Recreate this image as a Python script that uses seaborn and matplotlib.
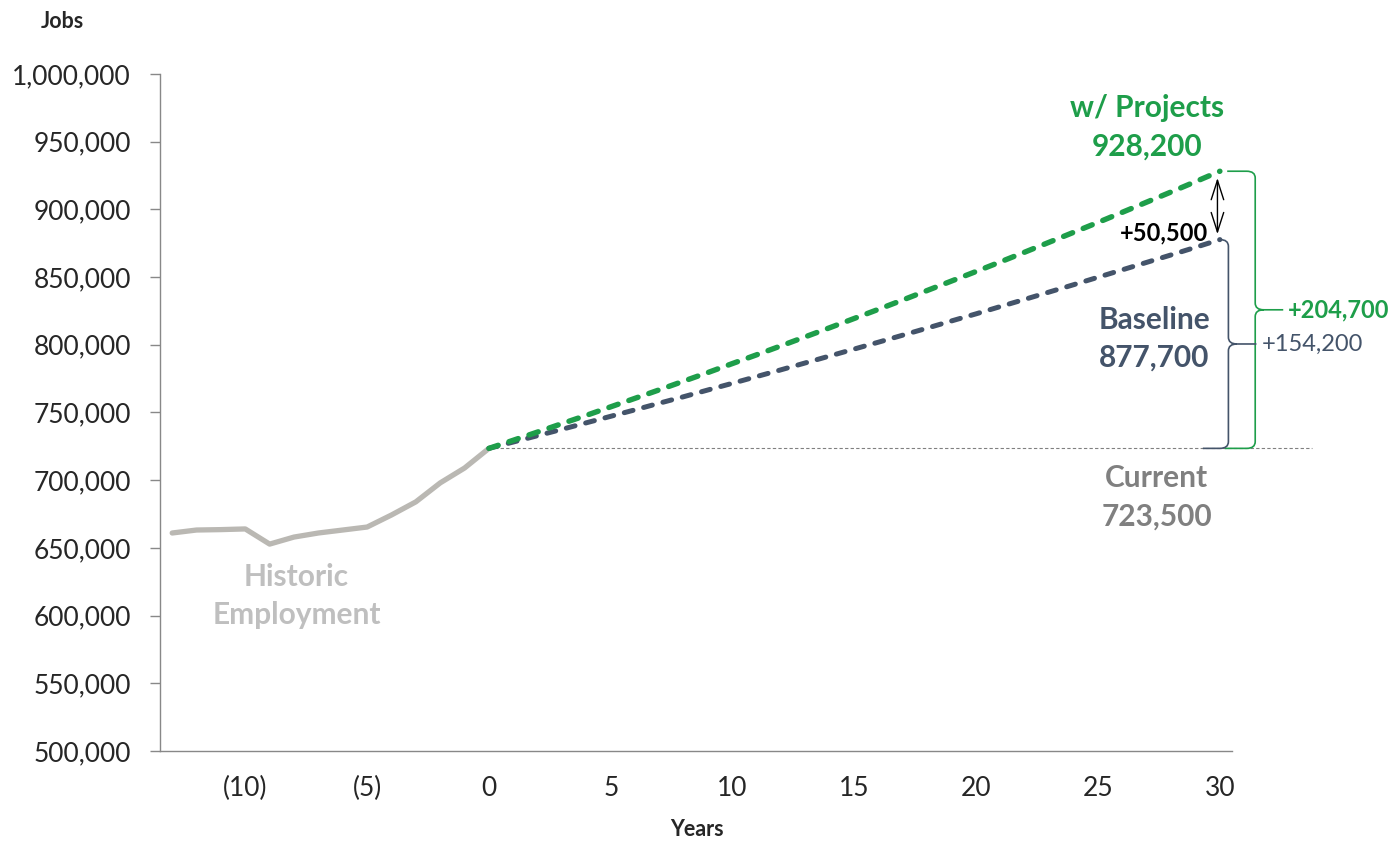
import matplotlib
matplotlib.use("Agg")
import matplotlib.pyplot as plt
import matplotlib.patches as mpatches
from matplotlib.path import Path
from matplotlib.ticker import FuncFormatter
import pandas as pd
import seaborn as sns

sns.set_style("ticks")
plt.rcParams["font.family"] = ["Lato", "DejaVu Sans"]

# Data
hist_years = list(range(-13, 1))
hist_jobs = [661000, 663200, 663500, 664000, 652800, 658000, 661000,
             663200, 665400, 674300, 684000, 698000, 709000, 723500]

proj_years = list(range(0, 31))
baseline_jobs = [723500, 728200, 732900, 737600, 742400, 747200, 752000,
                 756900, 761700, 766700, 771600, 776600, 781600, 786700,
                 791800, 796900, 802000, 807200, 812400, 817700, 822900,
                 828300, 833600, 839000, 844400, 849900, 855400, 860900,
                 866400, 872000, 877700]
projects_jobs = [723500, 729500, 735600, 741800, 747900, 754200, 760500,
                 766800, 773200, 779600, 786200, 792700, 799300, 806000,
                 812700, 819500, 826300, 833200, 840200, 847200, 854200,
                 861300, 868500, 875800, 883100, 890400, 897900, 905400,
                 912900, 920500, 928200]

current = hist_jobs[-1]
base_end = baseline_jobs[-1]
proj_end = projects_jobs[-1]

GREEN = "#1E9E4A"
NAVY = "#44546A"
HIST = "#BAB8B3"
GREY = "#808080"

hist_df = pd.DataFrame({"year": hist_years, "jobs": hist_jobs})
proj_df = pd.DataFrame({"year": proj_years, "baseline": baseline_jobs,
                        "projects": projects_jobs})

dpi_value = 100
fig, ax = plt.subplots(figsize=(1395 / dpi_value, 842 / dpi_value), dpi=dpi_value)
fig.subplots_adjust(left=0.1147, right=0.8832, top=0.9121, bottom=0.1081)

# reference line at current level
ax.plot([0, 33.8], [current, current], color=GREY, lw=0.8,
        linestyle=(0, (3, 2)), clip_on=False, zorder=1)

sns.lineplot(data=hist_df, x="year", y="jobs", ax=ax, color=HIST, linewidth=3.8,
             solid_capstyle="round", zorder=3)
sns.lineplot(data=proj_df, x="year", y="baseline", ax=ax, color=NAVY, linewidth=3.6,
             linestyle=(0, (1.8, 2.2)), dash_capstyle="round", zorder=4)
sns.lineplot(data=proj_df, x="year", y="projects", ax=ax, color=GREEN, linewidth=3.9,
             linestyle=(0, (1.8, 2.1)), dash_capstyle="round", zorder=5)

ax.set_xlim(-13.5, 30.5)
ax.set_ylim(500000, 1000000)
ax.set_yticks(range(500000, 1000001, 50000))
ax.yaxis.set_major_formatter(FuncFormatter(lambda v, p: f"{int(v):,}"))
ax.set_xticks([-10, -5, 0, 5, 10, 15, 20, 25, 30])
ax.xaxis.set_major_formatter(FuncFormatter(
    lambda v, p: f"({abs(int(v))})" if v < 0 else f"{int(v)}"))
ax.tick_params(axis="y", length=7, width=1, color="#888888", pad=14, labelsize=19)
ax.tick_params(axis="x", length=0, pad=18, labelsize=19)
ax.set_xlabel("")
ax.set_ylabel("")
for side in ["top", "right"]:
    ax.spines[side].set_visible(False)
for side in ["left", "bottom"]:
    ax.spines[side].set_color("#888888")
    ax.spines[side].set_linewidth(1)

fig.text(62 / 1395, 1 - 22 / 842, "Jobs", ha="center", va="center",
         fontsize=15.5, fontweight="bold")
fig.text(697 / 1395, 1 - 830 / 842, "Years", ha="center", va="center",
         fontsize=15.5, fontweight="bold")

# labels, one text per line
label_kw = dict(ha="center", va="center", fontsize=21.5, fontweight="bold")
ax.text(27.0, 974900, "w/ Projects", color=GREEN, **label_kw)
ax.text(27.0, 946100, f"{proj_end:,}", color=GREEN, **label_kw)
ax.text(27.3, 818300, "Baseline", color=NAVY, **label_kw)
ax.text(27.3, 790300, f"{base_end:,}", color=NAVY, **label_kw)
ax.text(27.4, 701600, "Current", color=GREY, **label_kw)
ax.text(27.4, 672800, f"{current:,}", color=GREY, **label_kw)
ax.text(-7.9, 628500, "Historic", color="#BFBFBF", **label_kw)
ax.text(-7.9, 600400, "Employment", color="#BFBFBF", **label_kw)

# gap arrow
ax.annotate("", xy=(29.9, proj_end - 5000), xytext=(29.9, base_end + 4000),
            arrowprops=dict(arrowstyle="<->,head_length=1.4,head_width=0.45",
                            color="black", lw=1.0, shrinkA=0, shrinkB=0))
ax.text(29.5, base_end + 5000, f"+{proj_end - base_end:,}", ha="right", va="center",
        fontsize=17, fontweight="bold", color="black")


def brace(x0_top, x0_bot, x1, x2, ytop, ybot, color):
    dx = 0.35
    ry = 5000
    ymid = (ytop + ybot) / 2
    verts = [(x0_top, ytop), (x1 - dx, ytop), (x1, ytop), (x1, ytop - ry),
             (x1, ymid + ry), (x1, ymid), (x1 + dx, ymid), (x2, ymid),
             (x1 + dx, ymid), (x1, ymid), (x1, ymid - ry),
             (x1, ybot + ry), (x1, ybot), (x1 - dx, ybot), (x0_bot, ybot)]
    codes = [Path.MOVETO, Path.LINETO, Path.CURVE3, Path.CURVE3,
             Path.LINETO, Path.CURVE3, Path.CURVE3, Path.LINETO,
             Path.MOVETO, Path.CURVE3, Path.CURVE3,
             Path.LINETO, Path.CURVE3, Path.CURVE3, Path.LINETO]
    patch = mpatches.PathPatch(Path(verts, codes), fill=False, edgecolor=color,
                               lw=1.2, clip_on=False, zorder=6)
    ax.add_patch(patch)
    return ymid


mid_g = brace(30.3, 30.2, 31.45, 32.6, proj_end, current, GREEN)
mid_n = brace(30.05, 29.3, 30.35, 31.5, base_end, current, NAVY)
ax.text(32.8, mid_g, f"+{proj_end - current:,}", ha="left", va="center",
        fontsize=17, fontweight="bold", color=GREEN)
ax.text(31.7, mid_n, f"+{base_end - current:,}", ha="left", va="center",
        fontsize=17, color=NAVY)

plt.savefig("out.png", dpi=dpi_value)
